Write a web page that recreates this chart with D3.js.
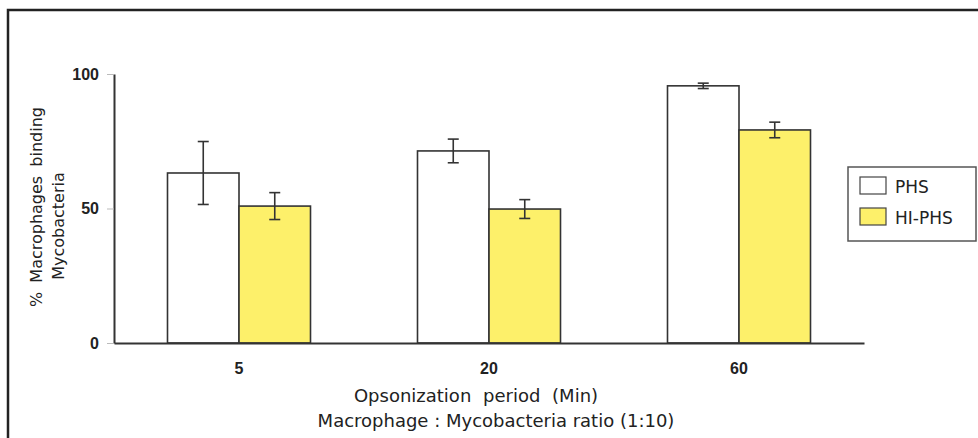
<!DOCTYPE html>
<html>
<head>
<meta charset="utf-8">
<script src="https://cdn.jsdelivr.net/npm/d3@7"></script>
<style>
  body { margin: 0; background: #fff; }
  svg { display: block; }
  .tick text { font-family: "Liberation Sans", Arial, sans-serif; font-weight: bold; fill: #222; }
  .lbl { font-family: "DejaVu Sans", Verdana, sans-serif; fill: #222; }
</style>
</head>
<body>
<div id="chart"></div>
<script>
  // values
  var periods = ["5", "20", "60"];
  var seriesNames = ["PHS", "HI-PHS"];
  var phsValues = [63.2, 71.4, 95.6];
  var phsErrors = [11.7, 4.4, 1.0];
  var hiphsValues = [50.9, 49.8, 79.2];
  var hiphsErrors = [5.0, 3.5, 2.9];
  var yTicks = [0, 50, 100];
  var colors = ["#ffffff", "#fdf06a"];

  var width = 978, height = 438;

  var svg = d3.select('#chart').append('svg')
    .attr('width', width)
    .attr('height', height);

  // outer frame, runs off the right and bottom edges
  svg.append('rect')
    .attr('x', 8).attr('y', 10)
    .attr('width', 1000).attr('height', 500)
    .attr('fill', 'none')
    .attr('stroke', '#222')
    .attr('stroke-width', 2.5);

  var x = d3.scaleBand()
    .domain(periods)
    .range([114, 864])
    .paddingInner(0.428)
    .paddingOuter(0.214);

  var xs = d3.scaleBand()
    .domain(seriesNames)
    .range([0, x.bandwidth()]);

  var y = d3.scaleLinear()
    .domain([0, 100])
    .range([343, 74]);

  var rows = periods.map(function(p, i) {
    return [
      {period: p, name: seriesNames[0], value: phsValues[i], err: phsErrors[i]},
      {period: p, name: seriesNames[1], value: hiphsValues[i], err: hiphsErrors[i]}
    ];
  });

  var groups = svg.selectAll('g.grp')
    .data(rows)
    .enter()
    .append('g')
    .attr('class', 'grp')
    .attr('transform', function(d, i) { return 'translate(' + x(periods[i]) + ',0)'; });

  groups.selectAll('rect')
    .data(function(d) { return d; })
    .enter()
    .append('rect')
    .attr('x', function(d) { return xs(d.name); })
    .attr('y', function(d) { return y(d.value); })
    .attr('width', xs.bandwidth())
    .attr('height', function(d) { return y(0) - y(d.value); })
    .attr('fill', function(d, i) { return colors[i]; })
    .attr('stroke', '#333')
    .attr('stroke-width', 1.6);

  // error bars
  var capW = 5.5;
  var eb = groups.selectAll('g.err')
    .data(function(d) { return d; })
    .enter()
    .append('g')
    .attr('class', 'err')
    .attr('stroke', '#333')
    .attr('stroke-width', 1.6);

  var cx = function(d) { return xs(d.name) + xs.bandwidth() / 2; };
  eb.append('line')
    .attr('x1', cx).attr('x2', cx)
    .attr('y1', function(d) { return y(d.value + d.err); })
    .attr('y2', function(d) { return y(d.value - d.err); });
  eb.append('line')
    .attr('x1', function(d) { return cx(d) - capW; })
    .attr('x2', function(d) { return cx(d) + capW; })
    .attr('y1', function(d) { return y(d.value + d.err); })
    .attr('y2', function(d) { return y(d.value + d.err); });
  eb.append('line')
    .attr('x1', function(d) { return cx(d) - capW; })
    .attr('x2', function(d) { return cx(d) + capW; })
    .attr('y1', function(d) { return y(d.value - d.err); })
    .attr('y2', function(d) { return y(d.value - d.err); });

  // y axis
  var yAxis = svg.append('g')
    .attr('transform', 'translate(114,0)')
    .call(d3.axisLeft(y).tickValues(yTicks).tickSize(7).tickSizeOuter(0).tickPadding(8));
  yAxis.select('.domain').attr('stroke', '#333').attr('stroke-width', 2);
  yAxis.selectAll('.tick line').attr('stroke', '#bbb').attr('stroke-width', 1);
  yAxis.selectAll('.tick text').style('font-size', '16px');

  // x axis
  var xAxis = svg.append('g')
    .attr('transform', 'translate(0,343)')
    .call(d3.axisBottom(x).tickSize(0).tickSizeOuter(0).tickPadding(20));
  xAxis.select('.domain').attr('stroke', '#333').attr('stroke-width', 2);
  xAxis.selectAll('.tick text').style('font-size', '16px');

  // axis titles
  svg.append('text').attr('class', 'lbl')
    .attr('transform', 'translate(42,207) rotate(-90)')
    .attr('text-anchor', 'middle')
    .style('font-size', '16px')
    .style('word-spacing', '4px')
    .text('% Macrophages binding');
  svg.append('text').attr('class', 'lbl')
    .attr('transform', 'translate(64,226) rotate(-90)')
    .attr('text-anchor', 'middle')
    .style('font-size', '16px')
    .text('Mycobacteria');

  svg.append('text').attr('class', 'lbl')
    .attr('x', 476).attr('y', 402)
    .attr('text-anchor', 'middle')
    .style('font-size', '18px')
    .style('word-spacing', '6px')
    .text('Opsonization period (Min)');
  svg.append('text').attr('class', 'lbl')
    .attr('x', 496).attr('y', 427)
    .attr('text-anchor', 'middle')
    .style('font-size', '18px')
    .text('Macrophage : Mycobacteria ratio (1:10)');

  // legend
  var legend = svg.append('g').attr('transform', 'translate(848,167)');
  legend.append('rect')
    .attr('width', 128).attr('height', 74)
    .attr('fill', '#fff')
    .attr('stroke', '#555')
    .attr('stroke-width', 1.5);
  var items = legend.selectAll('g.item')
    .data(seriesNames)
    .enter()
    .append('g')
    .attr('class', 'item')
    .attr('transform', function(d, i) { return 'translate(12,' + (10 + i * 31) + ')'; });
  items.append('rect')
    .attr('width', 26).attr('height', 17)
    .attr('fill', function(d, i) { return colors[i]; })
    .attr('stroke', '#444')
    .attr('stroke-width', 1.2);
  items.append('text').attr('class', 'lbl')
    .attr('x', 35).attr('y', 16)
    .style('font-size', '17px')
    .text(function(d) { return d; });
</script>
</body>
</html>
